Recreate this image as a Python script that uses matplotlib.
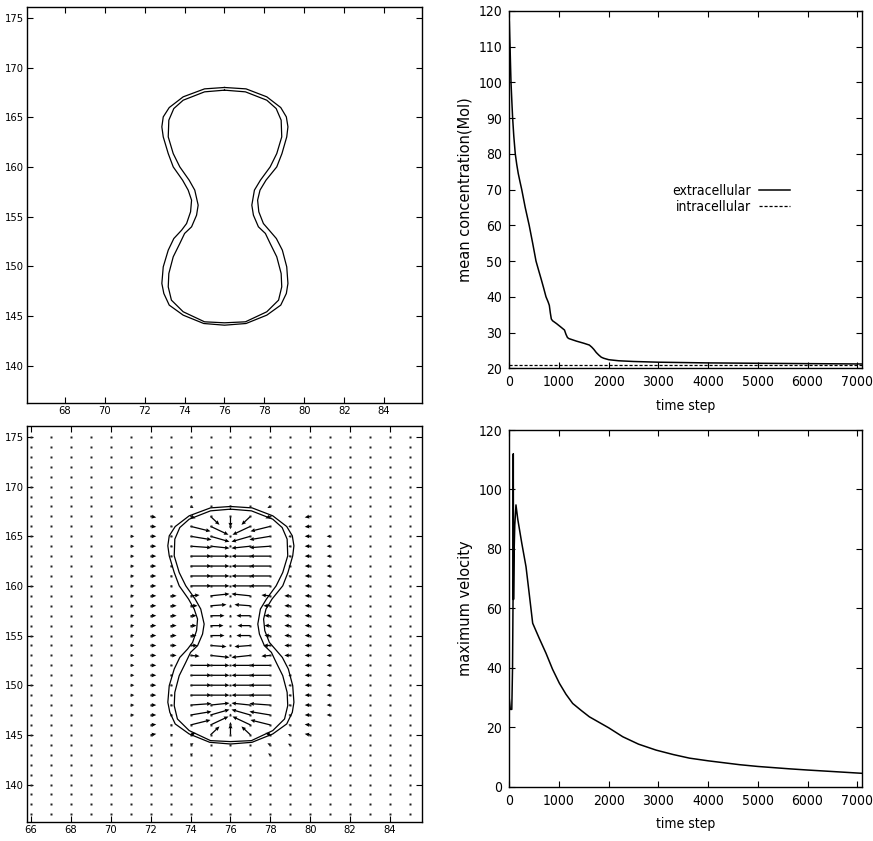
import numpy as np
import matplotlib
matplotlib.use("Agg")
import matplotlib.pyplot as plt
from matplotlib import font_manager

# cell outline (outer and inner contour)
outer_x = [76.0, 75.0, 73.93, 73.23, 72.93, 72.86, 72.93, 73.18, 73.43, 73.9, 74.18, 74.35,
           74.3, 74.1, 73.85, 73.46, 73.18, 72.93, 72.86, 72.96, 73.23, 73.93, 74.96, 76.0,
           77.08, 78.12, 78.82, 79.1, 79.18, 79.12, 78.9, 78.6, 78.24, 77.95, 77.72, 77.66,
           77.78, 78.08, 78.62, 78.88, 79.12, 79.18, 79.1, 78.82, 78.12, 77.08, 76.0]
outer_y = [168.0, 167.86, 167.06, 165.98, 165.04, 164.04, 163.03, 161.35, 160.01, 158.67, 157.67, 156.66,
           155.49, 154.31, 153.64, 152.8, 151.63, 149.95, 148.28, 147.27, 146.1, 145.09, 144.25, 144.08,
           144.25, 145.09, 146.1, 147.27, 148.28, 149.95, 151.63, 152.8, 153.64, 154.31, 155.49, 156.66,
           157.67, 158.67, 160.01, 161.35, 163.03, 164.04, 165.04, 165.98, 167.06, 167.86, 168.0]
inner_x = [76.0, 75.0, 73.93, 73.46, 73.21, 73.18, 73.43, 73.76, 74.23, 74.51, 74.68, 74.6,
           74.35, 74.0, 73.76, 73.43, 73.21, 73.18, 73.34, 73.93, 75.0, 76.0,
           77.05, 78.12, 78.71, 78.87, 78.84, 78.62, 78.29, 78.05, 77.7, 77.45, 77.37,
           77.5, 77.8, 78.29, 78.62, 78.87, 78.84, 78.59, 78.12, 77.05, 76.0]
inner_y = [167.73, 167.56, 166.72, 165.88, 164.71, 163.03, 161.35, 160.01, 158.67, 157.67, 156.16, 155.15,
           153.98, 153.31, 152.3, 150.96, 149.28, 147.94, 146.6, 145.43, 144.42, 144.32,
           144.42, 145.43, 146.6, 147.94, 149.28, 150.96, 152.3, 153.31, 153.98, 155.15, 156.16,
           157.67, 158.67, 160.01, 161.35, 163.03, 164.71, 165.88, 166.72, 167.56, 167.73]

# velocity field: grid and left-half arrows (columns 71..76, rows 169..143),
# the right half is the mirror image of the left half
grid_x = np.arange(66, 86)
grid_y = np.arange(137, 176)
arrow_cols = [71, 72, 73, 74, 75, 76]
arrow_rows = list(range(169, 142, -1))
u_left = [
    [0, 0, 0, 0.12, 0, 0],
    [0, 0, 0.12, 0.15, 0, 0],
    [0, 0.28, 0.12, 0.25, 0.45, 0],
    [0, 0.28, 0.1, 1.0, 0.9, 0],
    [0.18, 0.28, 0.1, 1.05, 0.95, 0],
    [0.18, 0.28, 0.1, 1.05, 0.95, 0],
    [0.18, 0.28, 0.1, 1.05, 0.95, 0],
    [0.18, 0.28, 0.1, 1.05, 0.95, 0],
    [0.18, 0.28, 0.1, 1.05, 0.95, 0],
    [0.18, 0.28, 0.1, 1.05, 0.95, 0],
    [0.18, 0.28, 0.3, 0.45, 0.95, 0],
    [0.18, 0.28, 0.3, 0.35, 0.8, 0],
    [0.18, 0.28, 0.3, 0.3, 0.7, 0],
    [0.18, 0.28, 0.3, 0.3, 0.65, 0],
    [0.18, 0.28, 0.3, 0.3, 0.7, 0],
    [0.18, 0.28, 0.3, 0.35, 0.8, 0],
    [0.18, 0.28, 0.3, 0.45, 0.95, 0],
    [0.18, 0.28, 0.1, 1.05, 0.95, 0],
    [0.18, 0.28, 0.1, 1.05, 0.95, 0],
    [0.18, 0.28, 0.1, 1.05, 0.95, 0],
    [0.18, 0.28, 0.1, 1.05, 0.95, 0],
    [0.18, 0.28, 0.1, 1.05, 0.95, 0],
    [0.18, 0.28, 0.1, 1.05, 0.95, 0],
    [0, 0.28, 0.1, 1.0, 0.9, 0],
    [0, 0.28, 0.12, 0.25, 0.45, 0],
    [0, 0, 0.12, 0.15, 0, 0],
    [0, 0, 0, 0.12, 0, 0],
]
v_left = [
    [0, 0, 0, -0.12, 0, 0],
    [0, 0, -0.1, -0.15, 0, 0],
    [0, -0.1, -0.05, -0.2, -0.85, -1.1],
    [0, -0.05, 0, -0.5, -0.85, -0.3],
    [0, 0, 0, -0.35, -0.55, -0.15],
    [0, 0, 0, -0.15, -0.2, -0.1],
    [0, 0, 0, 0, 0, 0],
    [0, 0, 0, 0, 0, 0],
    [0, 0, 0, 0, 0, 0],
    [0, 0, 0, 0, 0, 0],
    [0, 0, 0, 0.08, 0.2, 0],
    [0, 0, 0, 0, 0.12, 0.15],
    [0, 0, 0, 0, 0, 0.1],
    [0, 0, 0, 0, 0, 0],
    [0, 0, 0, 0, 0, -0.1],
    [0, 0, 0, 0, -0.12, -0.15],
    [0, 0, 0, -0.08, -0.2, 0],
    [0, 0, 0, 0, 0, 0],
    [0, 0, 0, 0, 0, 0],
    [0, 0, 0, 0, 0, 0],
    [0, 0, 0, 0, 0, 0],
    [0, 0, 0, 0.15, 0.2, 0.1],
    [0, 0, 0, 0.35, 0.55, 0.15],
    [0, 0.05, 0, 0.5, 0.85, 0.3],
    [0, 0.1, 0.05, 0.2, 0.85, 1.1],
    [0, 0, 0.1, 0.15, 0, 0],
    [0, 0, 0, 0.12, 0, 0],
]

# mean concentration vs time step
conc_t = [0, 8, 15, 25, 34, 50, 67, 90, 120, 150, 180, 215, 250, 285, 320, 360, 400, 470, 537,
          590, 640, 690, 738, 780, 805, 825, 845, 870, 950, 1040, 1110, 1140, 1170, 1200, 1350,
          1500, 1610, 1660, 1700, 1750, 1800, 1850, 1900, 2000, 2200, 2500, 3000, 4000, 5000,
          6000, 7090]
conc_extra = [117, 113, 110, 104.5, 100, 95, 90, 85, 80, 77, 74.5, 72.2, 70, 67.5, 65, 62.5, 60,
              55, 50, 47.4, 45, 42.5, 40, 38.6, 37.6, 35.5, 33.8, 33.3, 32.5, 31.5, 30.7, 29.5,
              28.6, 28.3, 27.6, 27.0, 26.5, 25.9, 25.3, 24.4, 23.7, 23.1, 22.8, 22.4, 22.1, 21.9,
              21.7, 21.5, 21.4, 21.3, 21.2]
intra_t = [0, 7090]
conc_intra = [20.95, 20.95]

# maximum velocity vs time step
vel_t = [0, 20, 50, 65, 75, 80, 85, 95, 110, 134, 170, 250, 336, 400, 470, 600, 738, 870, 1007,
         1140, 1275, 1450, 1611, 2000, 2282, 2600, 2953, 3300, 3624, 4000, 4631, 5000, 5638,
         6000, 6500, 7090]
vel_max = [29.5, 26, 26, 40, 63, 112, 63, 78, 88, 94.8, 90, 82, 74, 65, 55, 50, 44.9, 39.5, 34.8,
           31.1, 28, 25.6, 23.5, 19.8, 16.8, 14.3, 12.3, 10.8, 9.6, 8.7, 7.4, 6.8, 6.0, 5.6, 5.1,
           4.5]

# narrow font for tick labels (gnuplot / matlab look)
names = {f.name for f in font_manager.fontManager.ttflist}
cond = [f for f in font_manager.fontManager.ttflist
        if f.name == 'DejaVu Sans' and f.stretch == 'condensed' and f.weight in (400, 'normal')
        and f.style == 'normal']
if 'Liberation Sans Narrow' in names:
    narrow = {'family': 'Liberation Sans Narrow'}
    fs_small, fs_big = 8.5, 10.5
elif cond:
    narrow = {'fname': cond[0].fname}
    fs_small, fs_big = 8, 10
else:
    narrow = {'family': 'Liberation Sans'}
    fs_small, fs_big = 8, 9.5


def nfont(size):
    return font_manager.FontProperties(size=size, **narrow)


fig = plt.figure(figsize=(8.73, 8.41), dpi=100)


def style_left(ax, xlim, xticks):
    ax.set_xlim(*xlim)
    ax.set_ylim(136.25, 176.1)
    ax.set_xticks(xticks)
    ax.set_yticks(np.arange(140, 176, 5))
    ax.tick_params(direction='in', top=True, right=True, length=4, width=0.8, pad=2)
    for lab in ax.get_xticklabels() + ax.get_yticklabels():
        lab.set_fontproperties(nfont(fs_small))
    for s in ax.spines.values():
        s.set_linewidth(1.0)


# top left: cell outline
ax1 = fig.add_axes([0.0309, 0.5208, 0.4525, 0.4709])
ax1.plot(outer_x, outer_y, color='black', lw=0.9)
ax1.plot(inner_x, inner_y, color='black', lw=0.9)
style_left(ax1, (66.1, 85.9), np.arange(68, 85, 2))

# bottom left: cell outline with velocity field
ax3 = fig.add_axes([0.0309, 0.0229, 0.4525, 0.4705])
gx, gy = np.meshgrid(grid_x, grid_y)
ax3.plot(gx.ravel(), gy.ravel(), ls='none', marker='s', ms=1.6, mec='none', mfc='#222222')
qx, qy, qu, qv = [], [], [], []
for i, yy in enumerate(arrow_rows):
    for j, xx in enumerate(arrow_cols):
        u, v = u_left[i][j], v_left[i][j]
        if u == 0 and v == 0:
            continue
        qx.append(xx); qy.append(yy); qu.append(u); qv.append(v)
        if xx != 76:
            qx.append(152 - xx); qy.append(yy); qu.append(-u); qv.append(v)
ax3.quiver(qx, qy, qu, qv, angles='xy', scale_units='xy', scale=1, color='black',
           width=0.0032, headwidth=3.2, headlength=3.6, headaxislength=3.3, minshaft=1)
ax3.plot(outer_x, outer_y, color='black', lw=0.9)
ax3.plot(inner_x, inner_y, color='black', lw=0.9)
style_left(ax3, (65.8, 85.6), np.arange(66, 85, 2))


def style_right(ax, ylim, yticks):
    ax.set_xlim(0, 7090)
    ax.set_ylim(*ylim)
    ax.set_xticks(np.arange(0, 7001, 1000))
    ax.set_yticks(yticks)
    ax.tick_params(direction='in', top=True, right=True, length=4, width=0.8, pad=5)
    for lab in ax.get_xticklabels() + ax.get_yticklabels():
        lab.set_fontproperties(nfont(fs_big))
    for s in ax.spines.values():
        s.set_linewidth(1.0)
    ax.set_xlabel('time step', fontproperties=nfont(fs_big), labelpad=7)


# top right: mean concentration
ax2 = fig.add_axes([0.5834, 0.5621, 0.4037, 0.4249])
ax2.plot(conc_t, conc_extra, color='black', lw=1.1, label='extracellular')
ax2.plot(intra_t, conc_intra, color='black', lw=0.9, ls=(0, (2.5, 1.5)), label='intracellular')
style_right(ax2, (20, 120), np.arange(20, 121, 10))
ax2.set_ylabel('mean concentration(Mol)', family='DejaVu Sans', fontsize=10.5, labelpad=4)
leg = ax2.legend(loc='center right', bbox_to_anchor=(0.815, 0.474), markerfirst=False, frameon=False,
                 handlelength=2.2, handletextpad=0.6, labelspacing=0.15, borderpad=0,
                 prop=nfont(fs_big))

# bottom right: maximum velocity
ax4 = fig.add_axes([0.5834, 0.0646, 0.4037, 0.4241])
ax4.plot(vel_t, vel_max, color='black', lw=1.1)
style_right(ax4, (0, 120), np.arange(0, 121, 20))
ax4.set_ylabel('maximum velocity', family='DejaVu Sans', fontsize=10.5, labelpad=4)

fig.savefig('out.png', dpi=100)
